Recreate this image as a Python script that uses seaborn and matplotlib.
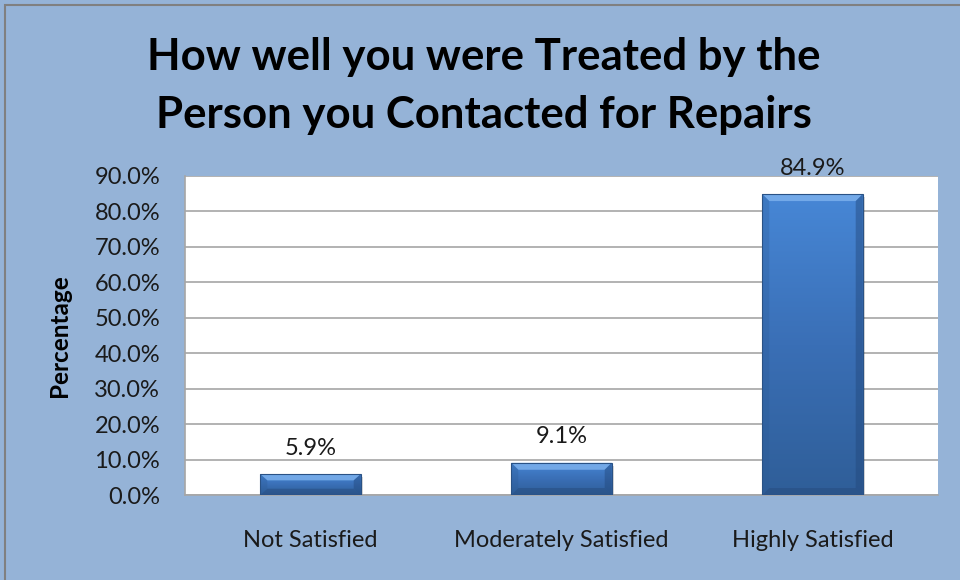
import numpy as np
import pandas as pd
import matplotlib
matplotlib.use("Agg")
import matplotlib.pyplot as plt
from matplotlib.patches import Rectangle, Polygon
from matplotlib.colors import LinearSegmentedColormap
import seaborn as sns

# Survey results
categories = ["Not Satisfied", "Moderately Satisfied", "Highly Satisfied"]
values = [0.059, 0.091, 0.849]
value_labels = ["5.9%", "9.1%", "84.9%"]
yticks = [0.0, 0.1, 0.2, 0.3, 0.4, 0.5, 0.6, 0.7, 0.8, 0.9]
ytick_labels = ["0.0%", "10.0%", "20.0%", "30.0%", "40.0%", "50.0%",
                "60.0%", "70.0%", "80.0%", "90.0%"]
title_lines = ["How well you were Treated by the", "Person you Contacted for Repairs"]

sns.set_theme(style="white")
plt.rcParams["font.family"] = ["Lato", "DejaVu Sans"]

BG = "#95B3D7"
fig = plt.figure(figsize=(9.6, 5.8), dpi=100, facecolor=BG)
ax = fig.add_axes([185 / 960, 1 - 495 / 580, 753 / 960, 319 / 580])
ax.set_facecolor("white")

df = pd.DataFrame({"category": categories, "value": values})
sns.barplot(data=df, x="category", y="value", ax=ax, width=0.4,
            color="#3C72BD", saturation=1, edgecolor="none", zorder=3)

ax.set_xlim(-0.5, 2.5)
ax.set_ylim(0, 0.9)
ax.set_yticks(yticks)
ax.set_yticklabels(ytick_labels)
ax.yaxis.grid(True, color="#A6A6A6", linewidth=1.2, zorder=0)
ax.set_axisbelow(True)
for side in ["top", "right"]:
    ax.spines[side].set_visible(False)
for side in ["left", "bottom"]:
    ax.spines[side].set_color("#A6A6A6")
    ax.spines[side].set_linewidth(1.2)
ax.tick_params(axis="both", length=0, labelsize=17, colors="#1A1A1A")
ax.tick_params(axis="x", pad=25)
ax.tick_params(axis="y", pad=18)
ax.set_xlabel("")
ax.set_ylabel("Percentage", fontsize=17.5, fontweight="bold", color="black", labelpad=17)

# Gradient fill and bevel on each bar
px_x = 3.0 / 753
px_y = 0.9 / 319
cmap = LinearSegmentedColormap.from_list("bar", ["#2F5E98", "#3A6FB6", "#4787D6"])
grad = np.linspace(0, 1, 256).reshape(-1, 1)
for patch in list(ax.patches):
    x0, y0 = patch.get_x(), patch.get_y()
    w, h = patch.get_width(), patch.get_height()
    # drop shadow
    ax.add_patch(Rectangle((x0 + 2 * px_x, y0 - 3 * px_y), w, h,
                           facecolor="#000000", alpha=0.15, edgecolor="none", zorder=2.5))
    im = ax.imshow(grad, cmap=cmap, origin="lower", aspect="auto",
                   extent=(x0, x0 + w, y0, y0 + h), zorder=3.1)
    im.set_clip_path(patch)
    bx = 7 * px_x
    by = min(7 * px_y, h * 0.3)
    top = Polygon([(x0, y0 + h), (x0 + w, y0 + h), (x0 + w - bx, y0 + h - by),
                   (x0 + bx, y0 + h - by)], closed=True,
                  facecolor="#7FB3EE", alpha=0.8, edgecolor="none", zorder=3.2)
    bottom = Polygon([(x0, y0), (x0 + w, y0), (x0 + w - bx, y0 + by),
                      (x0 + bx, y0 + by)], closed=True,
                     facecolor="#25497A", alpha=0.45, edgecolor="none", zorder=3.2)
    left = Polygon([(x0, y0), (x0 + bx, y0 + by), (x0 + bx, y0 + h - by),
                    (x0, y0 + h)], closed=True,
                   facecolor="#2B5A94", alpha=0.3, edgecolor="none", zorder=3.2)
    right = Polygon([(x0 + w, y0), (x0 + w - bx, y0 + by), (x0 + w - bx, y0 + h - by),
                     (x0 + w, y0 + h)], closed=True,
                    facecolor="#22477A", alpha=0.45, edgecolor="none", zorder=3.2)
    for p in (top, bottom, left, right):
        ax.add_patch(p)
    ax.add_patch(Rectangle((x0, y0), w, h, facecolor="none",
                           edgecolor="#2A5285", linewidth=0.8, zorder=3.3))

# Value labels above bars
for i, (v, lab) in enumerate(zip(values, value_labels)):
    ax.text(i, v + 26 * px_y, lab, ha="center", va="center", fontsize=17,
            color="#1A1A1A", zorder=5, clip_on=False)

for ypix, line in zip([57, 115], title_lines):
    fig.text(0.5 + 4 / 960, 1 - ypix / 580, line, ha="center", va="center",
             fontsize=31.5, fontweight="bold", color="black")

# Chart frame
fig.add_artist(Rectangle((5 / 960, -0.02), 1.1, 1 - 5 / 580 + 0.02, transform=fig.transFigure,
                         facecolor="none", edgecolor="#808080", linewidth=1.5))

fig.savefig("out.png", dpi=100, facecolor=BG)
